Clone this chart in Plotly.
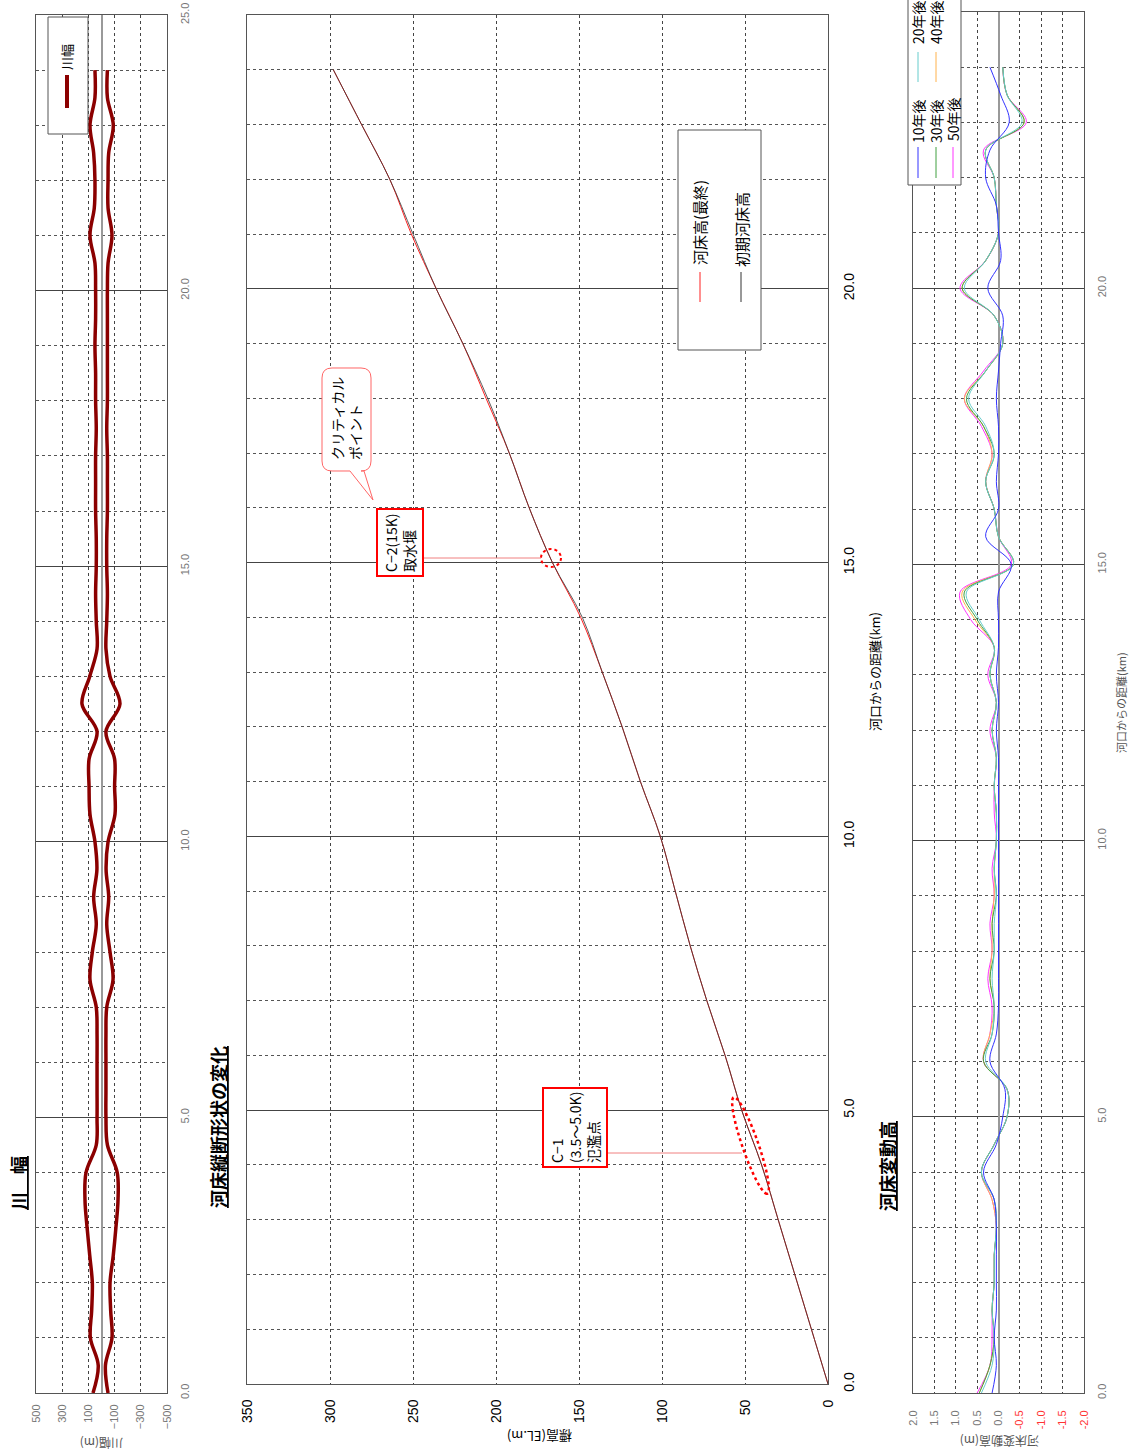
import numpy as np
import plotly.graph_objects as go

# distance from river mouth (km)
km = [i * 0.5 for i in range(49)]

# river width, bank lines (m)
width_left = [65, 25, 85, 75, 70, 90, 110, 126, 118, 40, 34, 34, 34, 34, 40, 88, 70, 40, 60, 35,
              50, 88, 95, 95, 34, 149, 90, 34, 40, 45, 40, 40, 45, 45, 45, 40, 45, 45, 50, 45,
              45, 50, 88, 55, 50, 60, 88, 50, 50]
width_right = [-50, -30, -80, -70, -65, -90, -110, -126, -120, -45, -34, -34, -34, -34, -40, -88, -65, -40, -55, -35,
               -50, -103, -100, -100, -34, -141, -65, -34, -40, -45, -40, -40, -45, -45, -45, -40, -45, -45, -45, -45,
               -45, -50, -80, -50, -50, -55, -90, -45, -45]

# bed elevation (EL.m)
km_bed = list(range(25))
bed_init = [0, 10, 20, 30, 40, 52, 62, 73, 83, 92, 101, 113, 124, 136, 148, 166, 180, 192, 205, 220,
            236, 250, 264, 281, 298]
bed_final = [0, 10, 20, 30, 40, 52, 62, 73, 83, 92, 101, 113, 124, 136, 149, 166, 180, 192, 206, 220,
             236, 251, 264, 281, 298]

# bed change (m)
chg_10 = [0.15, 0.05, 0.1, 0.05, 0.05, 0.05, 0.05, 0.1, 0.35, 0.05, -0.1, -0.15, 0.2, 0.05, 0.0, 0.0,
          0.0, 0.0, 0.0, 0.0, 0.0, 0.0, 0.0, 0.0, 0.05, 0.0, 0.05, 0.0, 0.0, 0.0, -0.3, 0.3,
          0.0, 0.05, 0.0, 0.0, 0.05, 0.0, -0.05, -0.1, 0.25, -0.05, 0.0, 0.05, 0.3, 0.2, -0.25, -0.05, 0.2]
chg_20 = [0.4, 0.15, 0.1, 0.15, 0.1, 0.1, 0.05, 0.1, 0.4, 0.1, -0.2, -0.2, 0.3, 0.15, 0.1, 0.15,
          0.1, 0.1, 0.05, 0.1, 0.05, 0.05, 0.1, 0.05, 0.15, 0.05, 0.2, 0.1, 0.45, 0.75, -0.35, 0.0,
          0.1, 0.3, 0.1, 0.3, 0.7, 0.3, -0.1, 0.1, 0.8, 0.3, 0.0, 0.05, 0.1, 0.3, -0.55, -0.2, -0.1]
chg_30 = [0.45, 0.2, 0.1, 0.15, 0.1, 0.1, 0.05, 0.1, 0.4, 0.1, -0.2, -0.2, 0.35, 0.15, 0.1, 0.2,
          0.1, 0.15, 0.05, 0.1, 0.05, 0.05, 0.1, 0.05, 0.15, 0.05, 0.2, 0.1, 0.5, 0.8, -0.35, 0.0,
          0.1, 0.3, 0.1, 0.35, 0.75, 0.3, -0.1, 0.1, 0.85, 0.3, 0.0, 0.05, 0.1, 0.3, -0.6, -0.2, -0.1]
chg_40 = [0.45, 0.2, 0.1, 0.15, 0.1, 0.1, 0.05, 0.15, 0.4, 0.1, -0.2, -0.2, 0.35, 0.2, 0.1, 0.2,
          0.15, 0.15, 0.1, 0.1, 0.05, 0.05, 0.1, 0.05, 0.15, 0.05, 0.2, 0.1, 0.55, 0.85, -0.35, 0.0,
          0.1, 0.3, 0.15, 0.35, 0.8, 0.3, -0.1, 0.1, 0.85, 0.3, 0.0, 0.05, 0.1, 0.3, -0.6, -0.2, -0.1]
chg_50 = [0.5, 0.2, 0.15, 0.15, 0.1, 0.1, 0.05, 0.15, 0.4, 0.1, -0.2, -0.2, 0.35, 0.2, 0.15, 0.25,
          0.15, 0.2, 0.1, 0.15, 0.05, 0.1, 0.1, 0.05, 0.2, 0.05, 0.25, 0.1, 0.65, 0.9, -0.3, 0.0,
          0.1, 0.3, 0.15, 0.4, 0.8, 0.35, -0.1, 0.1, 0.9, 0.3, 0.0, 0.05, 0.1, 0.35, -0.65, -0.2, -0.1]

W, H = 1130, 1454
JP = "Noto Sans CJK JP"
CLEAR = 'rgba(0,0,0,0)'


def px(x):
    return x / W


def py(y):
    return 1 - y / H


fig = go.Figure()

# panel 1: river width
for vals in (width_left, width_right):
    fig.add_trace(go.Scatter(x=vals, y=km, mode='lines', line=dict(color='#8b0000', width=3.5, shape='spline'),
                             xaxis='x', yaxis='y', showlegend=False))

# panel 2: bed profile
fig.add_trace(go.Scatter(x=bed_final, y=km_bed, mode='lines', line=dict(color='#ff2020', width=1, shape='spline'),
                         xaxis='x2', yaxis='y2', showlegend=False))
fig.add_trace(go.Scatter(x=bed_init, y=km_bed, mode='lines', line=dict(color='#333333', width=0.8, shape='spline'),
                         xaxis='x2', yaxis='y2', showlegend=False))

# panel 3: bed change
series = [(chg_50, '#ff33ff'), (chg_40, '#ffb24d'), (chg_30, '#40a040'), (chg_20, '#66cccc'), (chg_10, '#3333ff')]
for vals, col in series:
    fig.add_trace(go.Scatter(x=vals, y=km, mode='lines', line=dict(color=col, width=1, shape='spline'),
                             xaxis='x3', yaxis='y3', showlegend=False))

grid_dash = dict(griddash='3px,3px', gridcolor='#444444', gridwidth=1, automargin=False,
                 ticks='outside', tickcolor=CLEAR)


def dist_axis(dom, anchor, big=False, pad=7):
    return dict(domain=dom, anchor=anchor, range=[0, 25], dtick=5, tickformat='.1f', side='right',
                tickangle=-90, showgrid=True, gridcolor='#444444', gridwidth=1, automargin=False,
                minor=dict(dtick=1, showgrid=True, griddash='3px,3px', gridcolor='#555555', gridwidth=1),
                showline=True, mirror=True, linecolor='#555555', linewidth=1, zeroline=False,
                ticks='outside', ticklen=pad, tickcolor=CLEAR,
                tickfont=dict(size=14 if big else 11, color='#000000' if big else '#777777', family='Liberation Sans'))


neg = ['2.0', '1.5', '1.0', '0.5', '0.0']
ticks3 = [2.0, 1.5, 1.0, 0.5, 0.0, -0.5, -1.0, -1.5, -2.0]
text3 = neg + ['<span style="color:#ff3333">%s</span>' % t for t in ['-0.5', '-1.0', '-1.5', '-2.0']]

fig.update_layout(
    width=W, height=H, margin=dict(l=0, r=0, t=0, b=0),
    paper_bgcolor='white', plot_bgcolor='white',
    xaxis=dict(domain=[px(36), px(167)], anchor='y', range=[500, -500],
               tickvals=[500, 300, 100, -100, -300, -500], tickangle=-90, showgrid=True, **grid_dash,
               ticklen=6, zeroline=True, zerolinecolor='#999999', zerolinewidth=1.5,
               showline=True, mirror=True, linecolor='#555555',
               tickfont=dict(size=11, color='#777777', family='Liberation Sans')),
    yaxis=dist_axis([py(1393), py(15)], 'x', pad=8),
    xaxis2=dict(domain=[px(247), px(828)], anchor='y2', range=[350, 0], dtick=50, tickangle=-90,
                showgrid=True, **grid_dash, ticklen=9, zeroline=False, showline=True, mirror=True,
                linecolor='#555555',
                tickfont=dict(size=14, color='#000000', family='Liberation Sans')),
    yaxis2=dist_axis([py(1384), py(15)], 'x2', big=True, pad=8),
    xaxis3=dict(domain=[px(913), px(1084)], anchor='y3', range=[2, -2], tickvals=ticks3, ticktext=text3,
                tickangle=-90, showgrid=True, **grid_dash, ticklen=12,
                zeroline=True, zerolinecolor='#999999', zerolinewidth=1.5,
                showline=True, mirror=True, linecolor='#555555',
                tickfont=dict(size=11, color='#777777', family='Liberation Sans')),
    yaxis3=dist_axis([py(1393), py(12)], 'x3', pad=8),
    font=dict(family=JP),
)

ann = []
shapes = []


def text(x, y, s, size=13, color='#000000', angle=-90, **kw):
    ann.append(dict(x=px(x), y=py(y), xref='paper', yref='paper', text=s, showarrow=False,
                    xanchor='center', yanchor='middle',
                    textangle=angle, font=dict(size=size, color=color, family=JP), **kw))


def line(x0, y0, x1, y1, color, width=1, dash=None):
    shapes.append(dict(type='line', xref='paper', yref='paper', x0=px(x0), y0=py(y0), x1=px(x1), y1=py(y1),
                       line=dict(color=color, width=width, dash=dash)))


def rect(x0, y0, x1, y1, color='#555555', width=1, fill='white'):
    shapes.append(dict(type='rect', xref='paper', yref='paper', x0=px(x0), y0=py(y0), x1=px(x1), y1=py(y1),
                       line=dict(color=color, width=width), fillcolor=fill, layer='above'))


# titles
text(18, 1183, '<b><u>川　幅</u></b>', size=18)
text(218, 1127, '<b><u>河床縦断形状の変化</u></b>', size=18)
text(887, 1166, '<b><u>河床変動高</u></b>', size=18)

# axis titles
text(102, 1444, '川幅(m)', size=12, color='#555555', angle=180)
text(540, 1437, '標高(EL.m)', size=13, angle=180)
text(1000, 1442, '河床変動高(m)', size=12, color='#555555', angle=180)
text(874, 672, '河口からの距離(km)', size=13)
text(1121, 703, '河口からの距離(km)', size=11, color='#555555')

# legend panel 1
rect(48, 17, 88, 134)
line(67, 75, 67, 108, '#8b0000', width=4)
text(67, 57, '川幅', size=13)

# legend panel 2
rect(678, 130, 761, 350)
line(700, 272, 700, 302, '#ff2020')
line(741, 272, 741, 302, '#333333')
text(700, 223, '河床高(最終)', size=15)
text(741, 230, '初期河床高', size=15)

# legend panel 3
rect(908, -5, 961, 185)
leg3 = [(918, 147, 178, '#3333ff', '10年後', 121), (936, 147, 178, '#40a040', '30年後', 121),
        (953, 147, 178, '#ff33ff', '50年後', 119), (918, 52, 82, '#66cccc', '20年後', 22),
        (936, 52, 82, '#ffb24d', '40年後', 22)]
for x, y0, y1, col, lab, ty in leg3:
    line(x, y0, x, y1, col)
    text(x, ty, lab, size=14)

# C-2 marker
shapes.append(dict(type='circle', xref='paper', yref='paper', x0=px(541), y0=py(549), x1=px(561), y1=py(567),
                   line=dict(color='#ff0000', width=2, dash='dot')))
line(421, 558, 541, 558, '#f08080')
ann.append(dict(x=px(400), y=py(543), xref='paper', yref='paper', text='C−2(15K)<br>取水堰', showarrow=False,
                xanchor='center', yanchor='middle',
                textangle=-90, align='left', bordercolor='#ff0000', borderwidth=2, bgcolor='white', borderpad=3,
                font=dict(size=14, color='#000000', family=JP)))

# C-1 marker (rotated ellipse)
cx, cy, a, b = 750.5, 1145.5, 51, 8
ang = np.arctan2(95, 33)
t = np.linspace(0, 2 * np.pi, 60)
ex = cx + a * np.cos(t) * np.cos(ang) - b * np.sin(t) * np.sin(ang)
ey = cy + a * np.cos(t) * np.sin(ang) + b * np.sin(t) * np.cos(ang)
path = 'M ' + ' L '.join('%.5f,%.5f' % (px(xx), py(yy)) for xx, yy in zip(ex, ey)) + ' Z'
shapes.append(dict(type='path', xref='paper', yref='paper', path=path,
                   line=dict(color='#ff0000', width=2.5, dash='dot')))
line(605, 1153, 742, 1153, '#f08080')
ann.append(dict(x=px(575), y=py(1128), xref='paper', yref='paper', text='C−1<br>(3.5〜5.0K)<br>氾濫点',
                xanchor='center', yanchor='middle',
                showarrow=False, textangle=-90, align='left', bordercolor='#ff0000', borderwidth=2,
                bgcolor='white', borderpad=3, font=dict(size=14, color='#000000', family=JP)))

# critical point bubble
r = 10
x0, x1, y0, y1 = 322, 371, 368, 471
pts = [('M', x0 + r, y0), ('L', x1 - r, y0), ('Q', x1, y0, x1, y0 + r), ('L', x1, y1 - r),
       ('Q', x1, y1, x1 - r, y1), ('L', 364, y1), ('L', 373, 500), ('L', 350, y1), ('L', x0 + r, y1),
       ('Q', x0, y1, x0, y1 - r), ('L', x0, y0 + r), ('Q', x0, y0, x0 + r, y0)]
segs = []
for p in pts:
    if p[0] == 'Q':
        segs.append('Q %.5f,%.5f %.5f,%.5f' % (px(p[1]), py(p[2]), px(p[3]), py(p[4])))
    else:
        segs.append('%s %.5f,%.5f' % (p[0], px(p[1]), py(p[2])))
shapes.append(dict(type='path', xref='paper', yref='paper', path=' '.join(segs) + ' Z',
                   line=dict(color='#ff6666', width=1), fillcolor='white'))
ann.append(dict(x=px(346), y=py(419), xref='paper', yref='paper', text='クリティカル<br>ポイント', showarrow=False,
                xanchor='center', yanchor='middle',
                textangle=-90, align='left', font=dict(size=14, color='#000000', family=JP)))

fig.update_layout(annotations=ann, shapes=shapes)
# drop the default page margin so the figure sits at the window origin
fig.write_html("out.html", config={'displayModeBar': False},
               post_script="document.body.style.margin='0';document.body.style.overflow='hidden';")
